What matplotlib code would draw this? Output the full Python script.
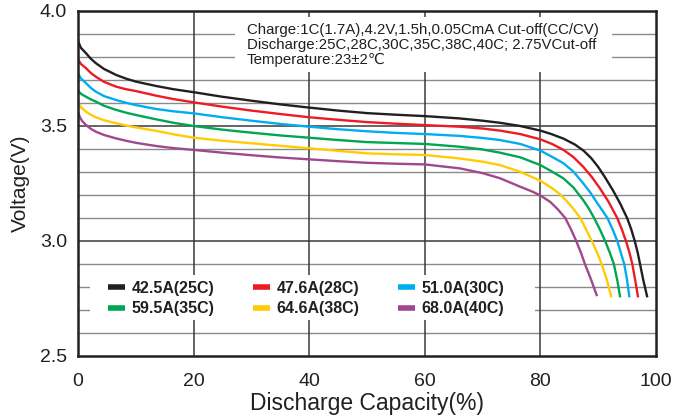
import matplotlib
matplotlib.use("Agg")
import matplotlib.pyplot as plt
from matplotlib.patches import Rectangle
from matplotlib.lines import Line2D

plt.rcParams['font.family'] = ['Liberation Sans', 'DejaVu Sans']

# ---- data ----
labels = ["42.5A(25C)", "47.6A(28C)", "51.0A(30C)",
          "59.5A(35C)", "64.6A(38C)", "68.0A(40C)"]
colors = ["#231f20", "#ed1c24", "#00aeef", "#00a651", "#ffcb05", "#a0488e"]

cap_25c = [0, 0.5, 1.4, 2.2, 3.1, 4.5, 6.6, 8.3, 10, 13.5, 16.5, 20, 25, 30, 35, 40, 45, 50, 55, 60, 66, 70, 73, 76.5, 80, 82, 84, 86, 87.5, 88.8, 90.0, 91.3, 92.6, 93.8, 95.0, 95.7, 96.3, 96.8, 97.2, 97.8, 98.5]
v_25c   = [3.870, 3.840, 3.816, 3.793, 3.773, 3.748, 3.722, 3.706, 3.693, 3.674, 3.660, 3.647, 3.627, 3.610, 3.594, 3.580, 3.567, 3.556, 3.549, 3.543, 3.533, 3.523, 3.514, 3.500, 3.480, 3.464, 3.445, 3.419, 3.392, 3.360, 3.322, 3.272, 3.218, 3.163, 3.100, 3.052, 3.002, 2.953, 2.905, 2.830, 2.755]

cap_28c = [0, 0.5, 1.4, 2.2, 3.1, 4.5, 6.6, 8.3, 10, 13.5, 16.5, 20, 25, 30, 35, 40, 45, 50, 55, 60, 66, 70, 73, 76.5, 80, 82, 84, 85.7, 87.4, 88.9, 90.3, 91.8, 93.3, 94.1, 94.8, 95.4, 95.9, 96.4, 96.9]
v_28c   = [3.790, 3.770, 3.751, 3.731, 3.714, 3.692, 3.671, 3.660, 3.652, 3.632, 3.617, 3.603, 3.584, 3.567, 3.552, 3.538, 3.527, 3.517, 3.510, 3.504, 3.497, 3.489, 3.480, 3.465, 3.442, 3.422, 3.396, 3.365, 3.323, 3.278, 3.229, 3.170, 3.100, 3.050, 3.000, 2.950, 2.900, 2.830, 2.755]

cap_30c = [0, 0.5, 1.4, 2.2, 3.1, 4.5, 6.6, 8.3, 10, 13.5, 16.5, 20, 25, 30, 35, 40, 45, 50, 55, 60, 66, 70, 73, 76.5, 80, 82, 84, 85.7, 87.4, 88.6, 89.7, 91.6, 92.5, 93.3, 93.9, 94.5, 95.0, 95.4]
v_30c   = [3.729, 3.707, 3.686, 3.666, 3.649, 3.630, 3.613, 3.601, 3.591, 3.574, 3.564, 3.555, 3.538, 3.523, 3.509, 3.497, 3.486, 3.477, 3.470, 3.465, 3.457, 3.448, 3.439, 3.422, 3.393, 3.366, 3.338, 3.302, 3.251, 3.212, 3.170, 3.100, 3.050, 3.000, 2.950, 2.900, 2.830, 2.755]

cap_35c = [0, 0.5, 1.4, 2.2, 3.1, 4.5, 6.6, 8.3, 10, 13.5, 16.5, 20, 25, 30, 35, 40, 45, 50, 55, 60, 66, 70, 73, 76.5, 80, 82, 84, 85.7, 87.4, 88.4, 89.3, 90.3, 91.2, 92.0, 92.7, 93.3, 93.8]
v_35c   = [3.653, 3.640, 3.627, 3.616, 3.606, 3.588, 3.570, 3.558, 3.548, 3.529, 3.514, 3.500, 3.484, 3.471, 3.459, 3.449, 3.439, 3.430, 3.426, 3.422, 3.410, 3.398, 3.384, 3.364, 3.330, 3.302, 3.272, 3.233, 3.178, 3.140, 3.100, 3.050, 3.000, 2.950, 2.900, 2.830, 2.755]

cap_38c = [0, 0.5, 1.4, 2.2, 3.1, 4.5, 6.6, 8.3, 10, 13.5, 16.5, 20, 25, 30, 35, 40, 45, 50, 55, 60, 66, 70, 73, 76.5, 80, 82, 83.3, 84.5, 85.7, 86.9, 87.9, 88.9, 89.8, 90.6, 91.5, 92.3]
v_38c   = [3.606, 3.582, 3.562, 3.549, 3.538, 3.525, 3.512, 3.502, 3.494, 3.479, 3.464, 3.449, 3.436, 3.425, 3.414, 3.403, 3.392, 3.381, 3.377, 3.374, 3.359, 3.345, 3.330, 3.301, 3.262, 3.230, 3.205, 3.175, 3.140, 3.100, 3.050, 3.000, 2.950, 2.900, 2.830, 2.755]

cap_40c = [0, 0.3, 0.7, 1.4, 2.2, 3.1, 4.5, 6.6, 8.3, 10, 13.5, 16.5, 20, 25, 30, 35, 40, 45, 50, 55, 60, 66, 70, 73, 76.5, 78.5, 80, 81.7, 83.0, 84.3, 85.3, 86.2, 87.0, 87.7, 88.8, 89.8]
v_40c   = [3.562, 3.540, 3.522, 3.504, 3.488, 3.475, 3.461, 3.446, 3.436, 3.427, 3.413, 3.404, 3.396, 3.384, 3.373, 3.363, 3.355, 3.347, 3.340, 3.336, 3.333, 3.316, 3.295, 3.273, 3.236, 3.216, 3.198, 3.170, 3.138, 3.100, 3.050, 3.000, 2.950, 2.900, 2.830, 2.760]

series_x = [cap_25c, cap_28c, cap_30c, cap_35c, cap_38c, cap_40c]
series_y = [v_25c, v_28c, v_30c, v_35c, v_38c, v_40c]

x_ticks = [0, 20, 40, 60, 80, 100]
y_ticks = [2.5, 3.0, 3.5, 4.0]
y_minor = [2.6, 2.7, 2.8, 2.9, 3.1, 3.2, 3.3, 3.4, 3.6, 3.7, 3.8, 3.9]

note_lines = ["Charge:1C(1.7A),4.2V,1.5h,0.05CmA Cut-off(CC/CV)",
              "Discharge:25C,28C,30C,35C,38C,40C; 2.75VCut-off",
              "Temperature:23\u00b12\u2103"]

TXT = "#231f20"

fig = plt.figure(figsize=(6.73, 4.16), dpi=100)
ax = fig.add_axes([78/673, 1-356/416, 578/673, 345/416])
ax.set_xlim(0, 100)
ax.set_ylim(2.5, 4.0)

# grid
for v in y_minor:
    ax.axhline(v, color="#8a8a8a", lw=1.0, zorder=1)
for v in y_ticks[1:-1]:
    ax.axhline(v, color="#3a3a3a", lw=1.1, zorder=1)
for v in x_ticks[1:-1]:
    ax.axvline(v, color="#3a3a3a", lw=1.1, zorder=1)

# white backgrounds of annotation and legend
ax.add_patch(Rectangle((0.272, 0.823), 0.652, 0.160, transform=ax.transAxes,
                       facecolor="white", edgecolor="none", zorder=2))
ax.add_patch(Rectangle((0.021, 0.104), 0.770, 0.131, transform=ax.transAxes,
                       facecolor="white", edgecolor="none", zorder=2))

for xs, ys, c, lab in zip(series_x, series_y, colors, labels):
    ax.plot(xs, ys, color=c, lw=1.7, zorder=3, label=lab,
            solid_capstyle="butt", solid_joinstyle="round")

for sp in ax.spines.values():
    sp.set_color(TXT)
    sp.set_linewidth(1.8)
    sp.set_zorder(5)

ax.set_xticks(x_ticks)
ax.set_yticks(y_ticks)
ax.set_yticklabels([f"{v:.1f}" for v in y_ticks])
ax.tick_params(length=0, labelsize=14, colors=TXT)
ax.tick_params(axis="y", pad=8)
ax.tick_params(axis="x", pad=12)

ax.set_xlabel("Discharge Capacity(%)", fontsize=16.5, color=TXT, labelpad=2)
ax.set_ylabel("Voltage(V)", fontsize=15, color=TXT, labelpad=7)

# annotation
for i, line in enumerate(note_lines):
    ax.text(0.292, 0.944 - i*0.0435, line, transform=ax.transAxes,
            fontsize=10.8, color=TXT, va="center", ha="left", zorder=4)

# legend (row-major order for 2 rows x 3 columns)
order = [0, 3, 1, 4, 2, 5]
handles = [Line2D([0], [0], color=colors[i], lw=4, solid_capstyle="butt") for i in order]
leg_labels = [labels[i] for i in order]
LFS = 11.5
fs_px = LFS * 100 / 72
# measure label width to get a 145 px column pitch
tmp = fig.text(0, 0, labels[0], fontsize=LFS, fontweight="bold")
fig.canvas.draw()
tw = tmp.get_window_extent().width
tmp.remove()
hl_px, hp_px = 17.0, 6.5
colsp = max(0.2, (145 - hl_px - hp_px - tw) / fs_px)
leg = ax.legend(handles, leg_labels, ncol=3, loc="center left",
                bbox_to_anchor=(30/578, 0.166), frameon=False,
                prop={"weight": "bold", "size": LFS},
                handlelength=hl_px / fs_px, handletextpad=hp_px / fs_px,
                columnspacing=colsp, labelspacing=0.34,
                borderpad=0.0, borderaxespad=0.0)
for t in leg.get_texts():
    t.set_color(TXT)
leg.set_zorder(4)

fig.savefig("out.png", dpi=100)
